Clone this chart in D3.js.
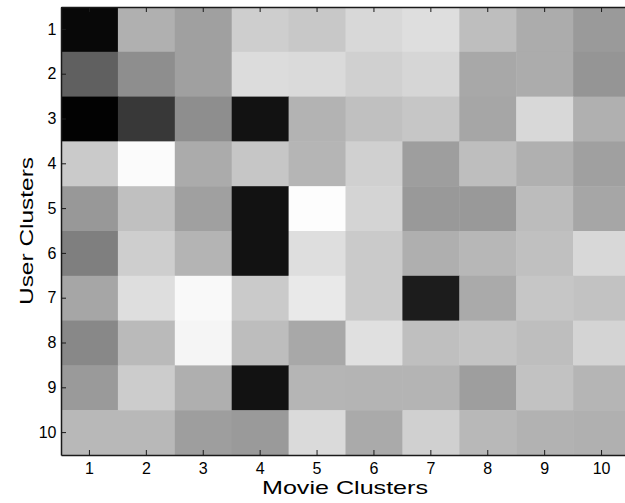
<!DOCTYPE html>
<html>
<head>
<meta charset="utf-8">
<script src="https://cdn.jsdelivr.net/npm/d3@7"></script>
<style>
  body { margin: 0; background: #fff; overflow: hidden; }
  svg { display: block; overflow: hidden; }
  svg text { font-family: "Liberation Sans", Arial, sans-serif; fill: #000; }
</style>
</head>
<body>
<div id="chart"></div>
<script>
// set the dimensions and margins of the graph
// (the plot box runs past the right edge of the picture, as in the original)
var margin = {top: 7, right: -5, bottom: 48, left: 61},
    width = 625 - margin.left - margin.right,
    height = 503 - margin.top - margin.bottom;

var movieClusters = [1, 2, 3, 4, 5, 6, 7, 8, 9, 10];
var userClusters = [1, 2, 3, 4, 5, 6, 7, 8, 9, 10];

// gray level per cell (0 = black, 255 = white), one array per user cluster
var user1  = [8, 176, 160, 206, 200, 216, 222, 190, 172, 154];
var user2  = [96, 142, 160, 220, 218, 208, 214, 168, 172, 149];
var user3  = [2, 56, 142, 18, 179, 192, 198, 166, 216, 176];
var user4  = [202, 251, 171, 198, 181, 208, 158, 190, 176, 160];
var user5  = [152, 192, 160, 18, 253, 212, 153, 153, 188, 166];
var user6  = [127, 206, 180, 18, 222, 202, 175, 183, 192, 216];
var user7  = [166, 222, 249, 202, 233, 202, 28, 170, 198, 194];
var user8  = [136, 186, 245, 189, 168, 224, 191, 196, 190, 212];
var user9  = [154, 204, 175, 18, 181, 180, 180, 158, 194, 181];
var user10 = [184, 184, 158, 154, 218, 170, 208, 184, 178, 176];

var rows = [user1, user2, user3, user4, user5, user6, user7, user8, user9, user10];

var cells = [];
rows.forEach(function(r, i) {
  r.forEach(function(v, j) {
    cells.push({user: userClusters[i], movie: movieClusters[j], value: v});
  });
});

var svg = d3.select("#chart").append("svg")
    .attr("width", 625)
    .attr("height", 503)
  .append("g")
    .attr("transform", "translate(" + margin.left + "," + margin.top + ")");

var x = d3.scaleBand().domain(movieClusters).range([0, width]);
var y = d3.scaleBand().domain(userClusters).range([0, height]);
var color = d3.scaleLinear().domain([0, 255]).range(["#000000", "#ffffff"]);

svg.append("g")
  .selectAll("rect")
  .data(cells)
  .join("rect")
    .attr("x", d => x(d.movie))
    .attr("y", d => y(d.user))
    .attr("width", x.bandwidth() + 0.5)
    .attr("height", y.bandwidth() + 0.5)
    .attr("fill", d => color(d.value));

// axes, MATLAB style: ticks pointing inward
function styleAxis(g) {
  g.select(".domain").attr("stroke", "#1a1a1a").attr("stroke-width", 1.5);
  g.selectAll(".tick line").attr("stroke", "#1a1a1a").attr("stroke-width", 1);
  g.selectAll(".tick text").style("font-size", "16px");
}

svg.append("g")
  .attr("transform", "translate(0," + height + ")")
  .call(d3.axisBottom(x).tickSizeInner(-5).tickSizeOuter(0).tickPadding(8))
  .call(styleAxis);

svg.append("g")
  .call(d3.axisTop(x).tickSizeInner(-5).tickSizeOuter(0).tickFormat(""))
  .call(styleAxis);

svg.append("g")
  .call(d3.axisLeft(y).tickSizeInner(-5).tickSizeOuter(0).tickPadding(4.5))
  .call(styleAxis);

svg.append("g")
  .attr("transform", "translate(" + width + ",0)")
  .call(d3.axisRight(y).tickSizeInner(-5).tickSizeOuter(0).tickFormat(""))
  .call(styleAxis);

// axis titles are drawn wide in the original, so stretch them to its length
svg.append("text")
  .attr("x", 345 - margin.left)
  .attr("y", height + 39)
  .attr("text-anchor", "middle")
  .attr("textLength", 166)
  .attr("lengthAdjust", "spacingAndGlyphs")
  .style("font-size", "19px")
  .text("Movie Clusters");

svg.append("text")
  .attr("transform", "rotate(-90)")
  .attr("x", -(231 - margin.top))
  .attr("y", -28)
  .attr("text-anchor", "middle")
  .attr("textLength", 148)
  .attr("lengthAdjust", "spacingAndGlyphs")
  .style("font-size", "19px")
  .text("User Clusters");
</script>
</body>
</html>
